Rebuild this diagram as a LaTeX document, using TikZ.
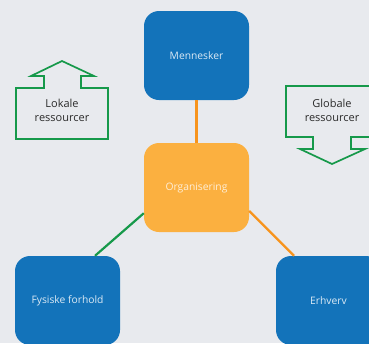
\documentclass[tikz,border=0pt]{standalone}
\usepackage{fontspec}
\setmainfont{Open Sans}
\usetikzlibrary{positioning}

\definecolor{bgGray}{HTML}{E8EAEE}
\definecolor{boxBlue}{HTML}{1373BA}
\definecolor{boxOrange}{HTML}{FBB040}
\definecolor{lineOrange}{HTML}{F7941D}
\definecolor{lineGreen}{HTML}{16994A}
\definecolor{txtDark}{HTML}{2B2B2B}

\begin{document}
\begin{tikzpicture}[x=1pt, y=-1pt, font=\fontsize{10.3}{12}\selectfont,
            area/.style={rounded corners=15pt, minimum width=105pt,
                minimum height=89pt, inner sep=0pt, text=white!85!boxBlue},
            blue area/.style={area, fill=boxBlue},
            hub/.style={area, fill=boxOrange, text=white!80!boxOrange},
            link/.style={line width=2.2pt},
            resource/.style={draw=lineGreen, line width=1.7pt, fill=bgGray, line join=miter},
            resource text/.style={align=center, text=txtDark, font=\fontsize{11}{14}\selectfont}]

        % --- Canvas ---
        \useasboundingbox (0,0) rectangle (369,343);
        \clip (0,0) rectangle (369,343);
        \fill[bgGray] (0,0) rectangle (369,343);

        % --- Areas ---
        \node[hub]       (org) at (196.5,187.5) {Organisering};
        \node[blue area] (men) at (196.5,55.5) {Mennesker};
        \node[blue area] (fys) at (67.5,300.5) {\raisebox{-3pt}{Fysiske forhold}};
        \node[blue area] (erh) at (328.5,300.5) {\raisebox{-3pt}{Erhverv}};

        % --- Links ---
        \draw[link, lineOrange] (men) -- (org);
        \draw[link, lineGreen]  (org.206) -- ([xshift=27.5pt]fys.north);
        \draw[link, lineOrange] (org.336) -- ([xshift=-34.5pt]erh.north);

        % --- Resources ---
        \draw[resource] (16,88) -- (44,88) -- (44,76) -- (31,76) -- (62,61)
            -- (94,76) -- (81,76) -- (81,88) -- (108,88) -- (108,139)
            -- (16,139) -- cycle;
        \node[resource text] (lok) at (62,110) {Lokale\\ressourcer};

        \draw[resource] (286,86) -- (378,86) -- (378,137) -- (351,137)
            -- (351,149) -- (365,149) -- (332,164) -- (300,149) -- (313,149)
            -- (313,137) -- (286,137) -- cycle;
        \node[resource text] (glo) at (332,110) {Globale\\ressourcer};

    \end{tikzpicture}
\end{document}
